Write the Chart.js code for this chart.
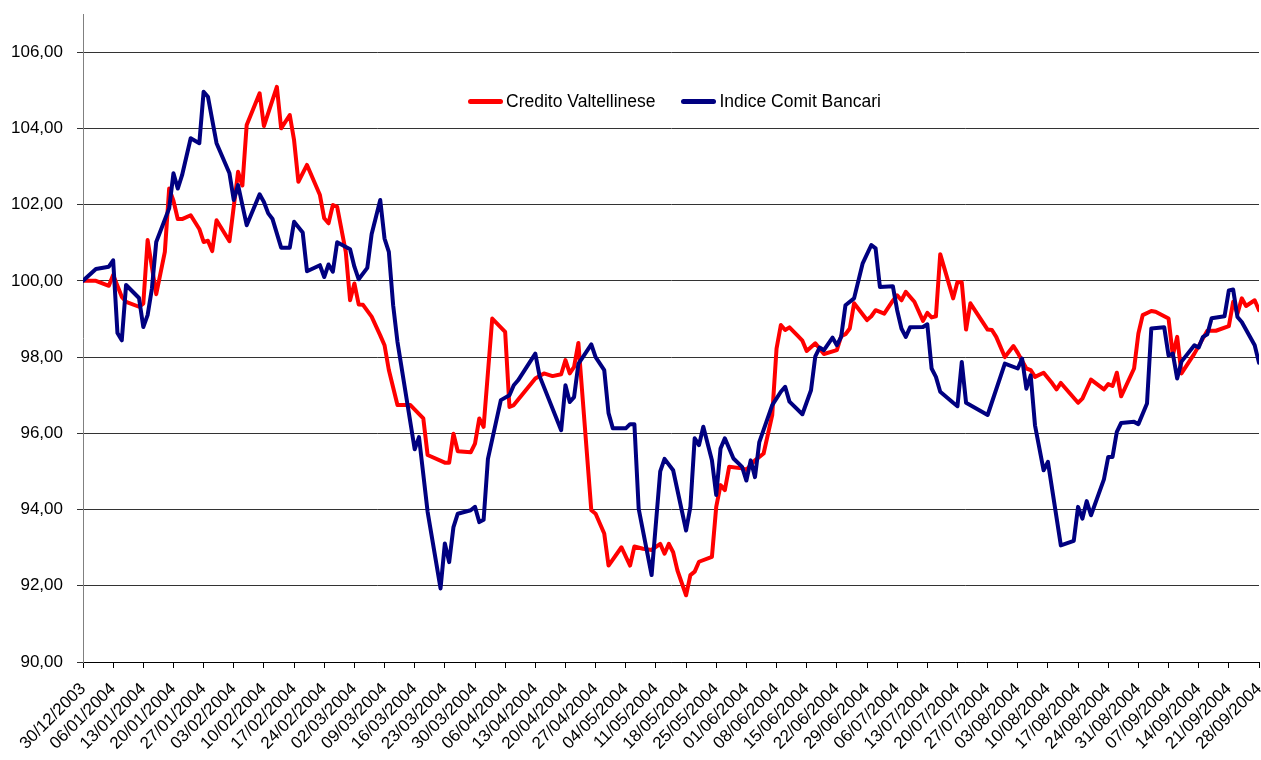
<!DOCTYPE html>
<html>
<head>
<meta charset="utf-8">
<title>Credito Valtellinese - Indice Comit Bancari</title>
<script src="https://cdn.jsdelivr.net/npm/chart.js@4.4.1/dist/chart.umd.min.js"></script>
<style>
  body { margin: 0; background: #fff; }
  .wrap { position: relative; width: 1261px; height: 760px; }
  #legend {
    position: absolute; left: 468px; top: 91px;
    display: flex; align-items: center;
    font-family: "Liberation Sans", Arial, sans-serif;
    font-size: 17.5px; line-height: 20px; color: #000;
  }
  .legend-item { display: flex; align-items: center; margin-right: 26px; }
  .legend-swatch { width: 35px; height: 5px; border-radius: 3px; margin-right: 3px; }
</style>
</head>
<body>
<div class="wrap">
  <canvas id="chart" width="1261" height="760"></canvas>
  <div id="legend"></div>
</div>
<script>
// days counted from 30/12/2003
const tickLabels = [
  "30/12/2003","06/01/2004","13/01/2004","20/01/2004","27/01/2004","03/02/2004",
  "10/02/2004","17/02/2004","24/02/2004","02/03/2004","09/03/2004","16/03/2004",
  "23/03/2004","30/03/2004","06/04/2004","13/04/2004","20/04/2004","27/04/2004",
  "04/05/2004","11/05/2004","18/05/2004","25/05/2004","01/06/2004","08/06/2004",
  "15/06/2004","22/06/2004","29/06/2004","06/07/2004","13/07/2004","20/07/2004",
  "27/07/2004","03/08/2004","10/08/2004","17/08/2004","24/08/2004","31/08/2004",
  "07/09/2004","14/09/2004","21/09/2004","28/09/2004"
];

const seriesNames = ["Credito Valtellinese", "Indice Comit Bancari"];

const creditoDays = [
  0,3,6,7,9,10,13,14,15,17,19,20,21,22,23,25,27,28,29,30,31,34,36,37,38,41,42,45,46,48,
  49,50,52,55,56,57,58,59,61,62,63,64,65,67,69,70,71,73,76,79,80,84,85,86,87,90,91,92,93,95,
  98,99,100,105,107,109,111,112,113,114,115,118,119,121,122,125,127,128,130,132,134,135,136,137,138,140,141,142,143,146,
  147,148,149,150,153,154,156,158,160,161,162,163,164,166,167,168,170,172,175,176,177,178,179,182,183,184,186,188,189,190,
  191,193,195,196,197,198,199,202,203,204,205,206,210,211,212,214,216,217,219,220,221,223,225,226,227,231,232,234,237,238,
  239,240,241,244,245,246,248,249,252,253,254,255,258,260,261,263,266,267,268,269,270,272,273
];
const creditoValues = [
  100.00,100.00,99.87,100.15,99.58,99.45,99.32,99.40,101.07,99.65,100.76,102.42,102.10,101.62,101.62,101.72,101.36,101.02,101.05,100.78,101.59,101.04,102.86,102.50,104.09,104.92,104.06,105.09,104.00,104.35,
  103.69,102.60,103.04,102.25,101.64,101.51,101.99,101.94,100.76,99.49,99.93,99.38,99.37,99.06,98.57,98.31,97.66,96.74,96.74,96.39,95.43,95.23,95.23,95.99,95.53,95.50,95.73,96.39,96.17,99.01,
  98.66,96.69,96.74,97.44,97.57,97.50,97.55,97.92,97.57,97.74,98.37,93.98,93.89,93.37,92.53,93.01,92.53,93.03,92.97,92.94,93.10,92.84,93.10,92.88,92.40,91.75,92.28,92.37,92.63,92.76,
  94.07,94.64,94.51,95.12,95.08,95.04,95.29,95.47,96.48,98.22,98.84,98.71,98.78,98.55,98.43,98.16,98.36,98.08,98.18,98.55,98.60,98.75,99.41,98.97,99.07,99.23,99.14,99.48,99.62,99.49,
  99.71,99.45,98.95,99.16,99.04,99.07,100.70,99.54,99.97,99.96,98.72,99.41,98.72,98.71,98.53,98.00,98.29,98.11,97.70,97.66,97.48,97.59,97.31,97.15,97.32,96.80,96.91,97.41,97.15,97.29,
  97.24,97.59,96.97,97.70,98.62,99.10,99.21,99.19,99.01,98.04,98.53,97.57,98.09,98.49,98.69,98.69,98.81,99.45,99.14,99.54,99.34,99.49,99.23
];

const comitDays = [
  0,3,6,7,8,9,10,13,14,15,16,17,20,21,22,23,25,27,28,29,31,34,35,36,38,41,42,43,44,46,
  48,49,51,52,55,56,57,58,59,62,63,64,66,67,69,70,71,72,73,77,78,80,83,84,85,86,87,90,91,92,
  93,94,97,99,100,101,105,106,111,112,113,114,115,118,119,121,122,123,126,127,128,129,132,134,135,137,140,141,142,143,
  144,146,147,148,149,151,153,154,155,156,157,160,162,163,164,167,169,170,171,172,174,175,176,177,179,181,183,184,185,188,
  189,190,191,192,195,196,197,198,199,202,203,204,205,210,214,217,218,219,220,221,223,224,227,230,231,232,233,234,237,238,
  239,240,241,244,245,247,248,251,252,253,254,255,258,259,260,261,262,265,266,267,268,269,272,273
];
const comitValues = [
  100.00,100.31,100.37,100.54,98.63,98.44,99.89,99.55,98.79,99.10,99.80,101.02,101.90,102.82,102.42,102.77,103.74,103.61,104.96,104.83,103.61,102.82,102.12,102.51,101.46,102.27,102.07,101.77,101.62,100.87,
  100.87,101.55,101.27,100.25,100.41,100.10,100.43,100.24,101.01,100.83,100.37,100.04,100.34,101.22,102.12,101.11,100.76,99.36,98.40,95.58,95.90,93.94,91.93,93.11,92.62,93.54,93.89,93.98,94.07,93.67,
  93.73,95.33,96.87,97.00,97.26,97.39,98.09,97.50,96.08,97.26,96.82,96.95,97.82,98.33,98.00,97.66,96.53,96.13,96.13,96.24,96.24,94.02,92.28,95.00,95.33,95.03,93.45,94.07,95.87,95.69,
  96.17,95.29,94.38,95.60,95.87,95.34,95.12,94.76,95.29,94.85,95.77,96.74,97.09,97.22,96.83,96.50,97.13,98.02,98.25,98.18,98.51,98.31,98.53,99.36,99.54,100.46,100.94,100.85,99.84,99.86,
  99.23,98.75,98.53,98.78,98.79,98.86,97.70,97.48,97.09,96.80,96.71,97.87,96.80,96.48,97.83,97.70,97.96,97.17,97.52,96.21,95.03,95.25,93.06,93.18,94.07,93.76,94.22,93.85,94.79,95.38,
  95.38,96.04,96.27,96.30,96.24,96.78,98.75,98.78,98.04,98.09,97.44,97.88,98.31,98.25,98.53,98.60,99.02,99.07,99.75,99.77,99.05,98.92,98.31,97.85
];

const toPoints = (days, values) => days.map((d, i) => ({ x: d, y: values[i] }));

Chart.defaults.font.family = '"Liberation Sans", Arial, sans-serif';
Chart.defaults.font.size = 17;
Chart.defaults.color = "#000";

// legend drawn as html so it can sit inside the plot area
const htmlLegend = {
  id: "htmlLegend",
  afterUpdate(chart) {
    const box = document.getElementById("legend");
    box.innerHTML = "";
    chart.data.datasets.forEach(ds => {
      const item = document.createElement("div");
      item.className = "legend-item";
      const swatch = document.createElement("span");
      swatch.className = "legend-swatch";
      swatch.style.background = ds.borderColor;
      const text = document.createElement("span");
      text.textContent = ds.label;
      item.appendChild(swatch);
      item.appendChild(text);
      box.appendChild(item);
    });
  }
};

new Chart(document.getElementById("chart"), {
  type: "line",
  data: {
    datasets: [
      {
        label: seriesNames[0],
        data: toPoints(creditoDays, creditoValues),
        borderColor: "#FF0000",
        borderWidth: 4,
        pointRadius: 0,
        borderJoinStyle: "round",
        borderCapStyle: "round",
        order: 2
      },
      {
        label: seriesNames[1],
        data: toPoints(comitDays, comitValues),
        borderColor: "#000080",
        borderWidth: 4,
        pointRadius: 0,
        borderJoinStyle: "round",
        borderCapStyle: "round",
        order: 1
      }
    ]
  },
  options: {
    responsive: false,
    animation: false,
    layout: { padding: { top: 14, right: 2, bottom: 0, left: 0 } },
    plugins: {
      legend: { display: false },
      tooltip: { enabled: false }
    },
    scales: {
      x: {
        type: "linear",
        min: 0,
        max: 273,
        afterFit: s => { s.height = 98; s.paddingLeft = 0; s.paddingRight = 0; },
        border: { color: "#000", width: 1 },
        grid: { drawOnChartArea: false, tickLength: 6, tickColor: "#000" },
        ticks: {
          stepSize: 7,
          autoSkip: false,
          maxRotation: 45,
          minRotation: 45,
          padding: 11,
          callback: v => tickLabels[Math.round(v / 7)]
        }
      },
      y: {
        min: 90,
        max: 107,
        afterFit: s => { s.width = 83; s.paddingTop = 0; s.paddingBottom = 0; },
        border: { color: "#808080", width: 1 },
        grid: { color: "#333", tickLength: 6, tickColor: "#333" },
        ticks: {
          stepSize: 2,
          includeBounds: false,
          padding: 14,
          callback: v => v.toFixed(2).replace(".", ",")
        }
      }
    }
  },
  plugins: [htmlLegend]
});
</script>
</body>
</html>
